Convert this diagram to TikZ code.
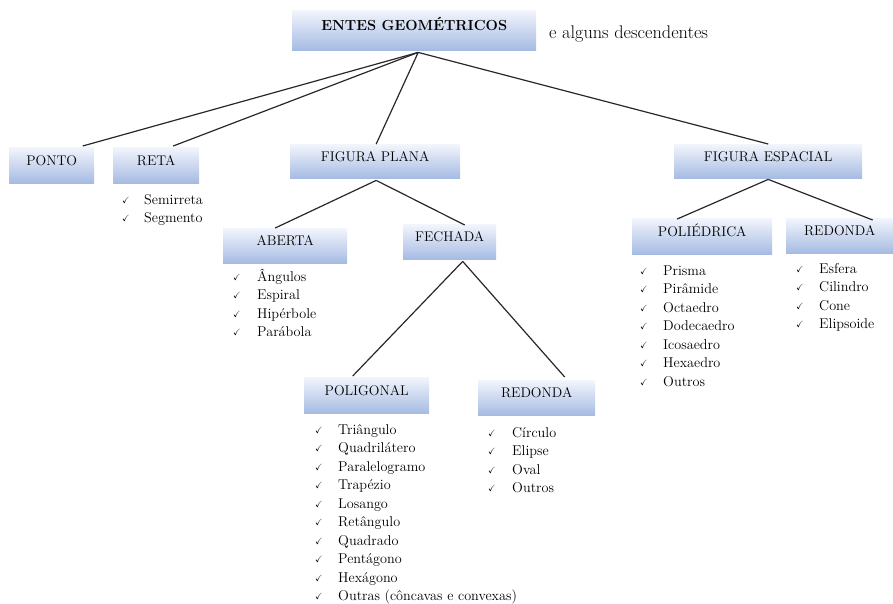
\documentclass[tikz,border=0pt]{standalone}
\usepackage{amssymb}
\usetikzlibrary{calc}
\definecolor{boxtop}{RGB}{242,245,252}
\definecolor{boxbot}{RGB}{166,187,227}
\definecolor{linecol}{RGB}{40,40,40}
\tikzset{
  gbox/.style={rectangle, anchor=north west, inner sep=0pt, top color=boxtop, bottom color=boxbot,
    text height=0pt, text depth=0pt, font=\fontsize{14}{16}\selectfont, text=black},
  conn/.style={draw=linecol, line width=1.2pt},
  item/.style={anchor=base west, inner sep=0pt, font=\fontsize{14.2}{16}\selectfont, text=black},
}
\newcommand{\chk}{\makebox[0pt][l]{\raisebox{1pt}{\small$\checkmark$}}}
\begin{document}
\begin{tikzpicture}[x=1pt,y=-1pt]
\useasboundingbox (0,0) rectangle (893,603);
% boxes
\node[gbox, minimum width=244pt, minimum height=40pt, font=\fontsize{14.6}{16}\bfseries] (entes) at (292,10) {ENTES GEOM\'ETRICOS};
\node[anchor=base west, inner sep=0pt, font=\fontsize{18.3}{20}\selectfont] (desc) at (549,38) {e alguns descendentes};
\node[gbox, minimum width=85pt, minimum height=36pt] (ponto) at (9,147) {PONTO};
\node[gbox, minimum width=86pt, minimum height=36pt] (reta) at (113,147) {RETA};
\node[gbox, minimum width=170pt, minimum height=34pt] (plana) at (290,144) {FIGURA PLANA};
\node[gbox, minimum width=188pt, minimum height=34pt] (espacial) at (674,144) {FIGURA ESPACIAL};
\node[gbox, minimum width=124pt, minimum height=35pt] (aberta) at (223,228) {ABERTA};
\node[gbox, minimum width=93pt, minimum height=35pt] (fechada) at (403,224) {FECHADA};
\node[gbox, minimum width=140pt, minimum height=36pt] (poli) at (632,218) {POLI\'EDRICA};
\node[gbox, minimum width=107pt, minimum height=35pt] (redsp) at (786,218) {REDONDA};
\node[gbox, minimum width=125pt, minimum height=36pt] (poligonal) at (304,377) {POLIGONAL};
\node[gbox, minimum width=117pt, minimum height=35pt] (redpl) at (478,380) {REDONDA};
% connectors
\coordinate (apex) at ($(entes.south)+(4,2)$);
\draw[conn] (apex) -- ($(ponto.north)+(31,-1)$);
\draw[conn] (apex) -- ($(reta.north)+(17,-1)$);
\draw[conn] (apex) -- ($(plana.north)+(1,0)$);
\draw[conn] (apex) -- (espacial.north);
\draw[conn] ($(plana.south)+(1,2)$) -- ($(aberta.north)+(-10,0)$);
\draw[conn] ($(plana.south)+(1,2)$) -- ($(fechada.north)+(15,1)$);
\draw[conn] ($(espacial.south)+(0,1)$) -- ($(poli.north)+(-25,1)$);
\draw[conn] ($(espacial.south)+(0,1)$) -- ($(redsp.north)+(33,2)$);
\draw[conn] ($(fechada.south)+(13,2)$) -- ($(poligonal.north)+(-14,-1)$);
\draw[conn] ($(fechada.south)+(13,2)$) -- ($(redpl.north)+(28,-3)$);
% lists
\foreach \t [count=\i] in {Semirreta,Segmento}
  \node[item] (reta-\i) at (122,{204+18.7*(\i-1)}) {\chk\hspace{22pt}\t};
\foreach \t [count=\i] in {\^Angulos,Espiral,Hip\'erbole,Par\'abola}
  \node[item] (aberta-\i) at (233,{281+18.5*(\i-1)}) {\chk\hspace{24pt}\t};
\foreach \t [count=\i] in {Prisma,Pir\^amide,Octaedro,Dodecaedro,Icosaedro,Hexaedro,Outros}
  \node[item] (poli-\i) at (640,{275+18.5*(\i-1)}) {\chk\hspace{23pt}\t};
\foreach \t [count=\i] in {Esfera,Cilindro,Cone,Elipsoide}
  \node[item] (redsp-\i) at (796,{273+18.5*(\i-1)}) {\chk\hspace{23pt}\t};
\foreach \t [count=\i] in {Tri\^angulo,Quadril\'atero,Paralelogramo,Trap\'ezio,Losango,Ret\^angulo,Quadrado,Pent\'agono,Hex\'agono,Outras (c\^oncavas e convexas)}
  \node[item] (poligonal-\i) at (315,{434+18.55*(\i-1)}) {\chk\hspace{23pt}\t};
\foreach \t [count=\i] in {C\'irculo,Elipse,Oval,Outros}
  \node[item] (redpl-\i) at (488,{437+18.5*(\i-1)}) {\chk\hspace{24pt}\t};
\end{tikzpicture}
\end{document}
